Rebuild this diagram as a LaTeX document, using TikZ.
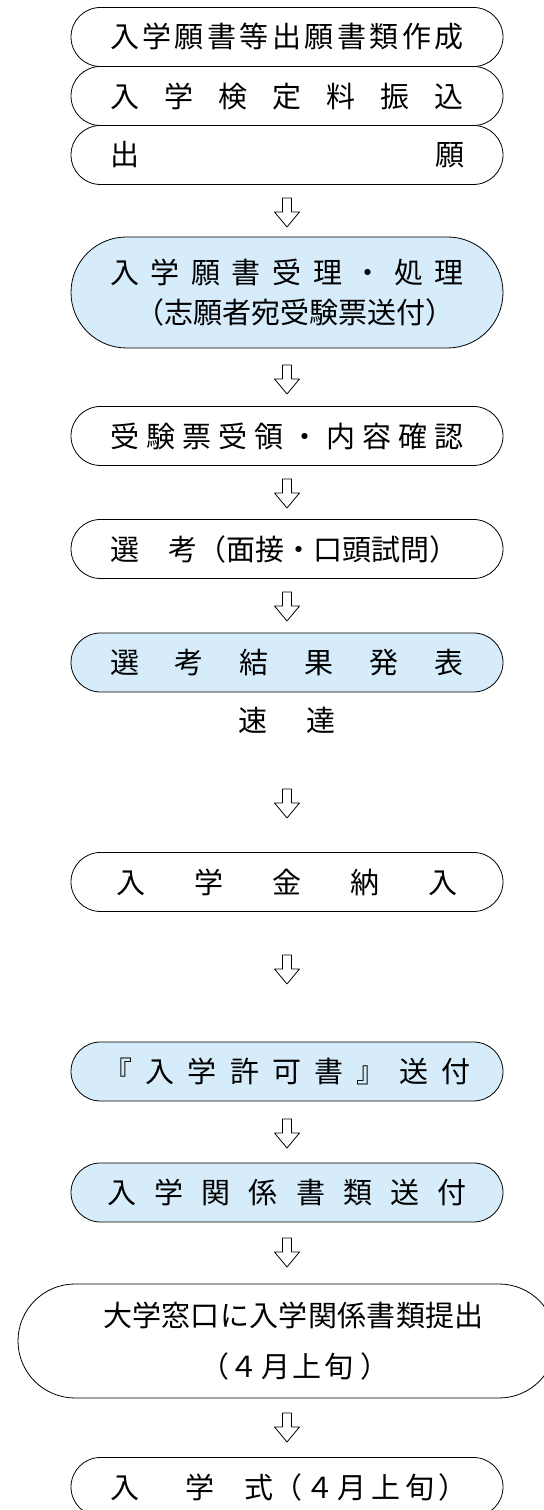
\documentclass[tikz,border=0pt]{standalone}
\usepackage{fontspec}
\newfontfamily\jpfont{Noto Sans CJK JP}
\newcommand\jpsize{\jpfont\fontsize{29bp}{34bp}\selectfont}
\definecolor{stepblue}{RGB}{214,236,250}
% spread the characters of a line over a given width
\def\spreadloop#1#2{#1\ifx\relax#2\else\hfill\expandafter\spreadloop\expandafter#2\fi}
\newcommand\spreadline[2]{\makebox[#1][s]{\spreadloop#2\relax}}
\begin{document}
\begin{tikzpicture}[line join=bevel,
  stepbox/.style={draw=black,line width=0.8bp,fill=white,rounded corners=29.5bp,minimum width=432bp,minimum height=59bp,inner sep=0pt,align=center,font=\jpsize},
  stepfill/.style={stepbox,fill=stepblue},
  flowarrow/.pic={\draw[line width=0.8bp,fill=white] (-4.5bp,0bp) -- (4.5bp,0bp) -- (4.5bp,-14bp) -- (12.5bp,-14bp) -- (0bp,-29bp) -- (-12.5bp,-14bp) -- (-4.5bp,-14bp) -- cycle;}]
\useasboundingbox (0bp,0bp) rectangle (544bp,1510bp);
%%
\node (step_forms) at (287bp,1473bp) [stepbox] {\spreadline{354bp}{入学願書等出願書類作成}};
  \node (step_fee) at (287bp,1414bp) [stepbox] {\spreadline{354bp}{入学検定料振込}};
  \node (step_apply) at (287bp,1355bp) [stepbox] {\spreadline{354bp}{出願}};
  \pic at (287bp,1312bp) {flowarrow};
  \node (step_receipt) at (287bp,1217.5bp) [stepfill,minimum height=111bp,rounded corners=55.5bp] {\spreadline{354bp}{入学願書受理・処理}\\[6bp]\spreadline{304bp}{（志願者宛受験票送付）}};
  \pic at (287bp,1145bp) {flowarrow};
  \node (step_ticket) at (287bp,1074bp) [stepbox] {\spreadline{354bp}{受験票受領・内容確認}};
  \pic at (287bp,1031bp) {flowarrow};
  \node (step_exam) at (287bp,961bp) [stepbox] {\makebox[354bp][l]{選　考（面接・口頭試問）}};
  \pic at (287bp,918bp) {flowarrow};
  \node (step_result) at (287bp,847.5bp) [stepfill] {\spreadline{354bp}{選考結果発表}};
  \node (note_express) at (287bp,790bp) [font=\jpsize,inner sep=0pt] {\spreadline{98bp}{速達}};
  \pic at (287bp,721bp) {flowarrow};
  \node (step_payment) at (287bp,628bp) [stepbox] {\spreadline{342bp}{入学金納入}};
  \pic at (287bp,555bp) {flowarrow};
  \node (step_permit) at (287bp,438.5bp) [stepfill] {\spreadline{367bp}{『入学許可書』送付}};
  \pic at (287bp,391bp) {flowarrow};
  \node (step_papers) at (287bp,317.5bp) [stepfill] {\spreadline{359bp}{入学関係書類送付}};
  \pic at (287bp,272bp) {flowarrow};
  \node (step_submit) at (287bp,169bp) [stepbox,minimum width=538bp,minimum height=114bp,rounded corners=57bp] {\hspace*{13bp}\spreadline{381bp}{大学窓口に入学関係書類提出}\\[17bp]\hspace*{16bp}（４\hspace{4bp}月\hspace{2bp}上\hspace{3bp}旬\hspace{7bp}）};
  \pic at (287bp,97bp) {flowarrow};
  \node (step_ceremony) at (287bp,23bp) [stepbox] {\makebox[354bp][l]{入\hspace{47bp}学\hspace{30bp}式\hspace{0bp}（\hspace{3bp}４\hspace{3bp}月\hspace{5bp}上\hspace{5bp}旬\hspace{4bp}）}};
%
\end{tikzpicture}
\end{document}
